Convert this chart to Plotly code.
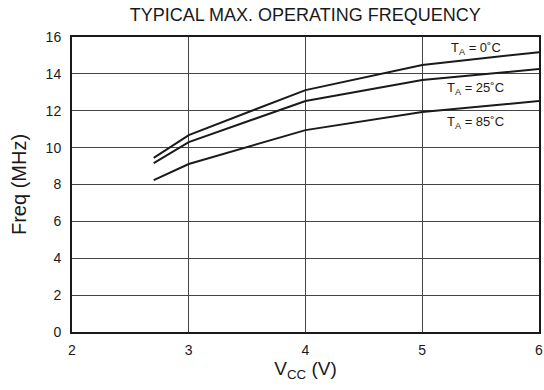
import plotly.graph_objects as go

vcc = [2.7, 3.0, 4.0, 5.0, 6.0]
freq_0c = [9.44, 10.68, 13.12, 14.48, 15.18]
freq_25c = [9.16, 10.30, 12.53, 13.67, 14.26]
freq_85c = [8.24, 9.11, 10.95, 11.93, 12.53]

labels = ["T<sub>A</sub> = 0˚C", "T<sub>A</sub> = 25˚C", "T<sub>A</sub> = 85˚C"]
label_x = [5.46, 5.46, 5.46]
label_y = [15.35, 13.23, 11.39]

font = "Liberation Sans, Arial, sans-serif"

fig = go.Figure()
for ys in [freq_0c, freq_25c, freq_85c]:
    fig.add_trace(go.Scatter(x=vcc, y=ys, mode="lines",
                             line=dict(color="#1a1a1a", width=2), showlegend=False,
                             hoverinfo="skip"))

for t, x, y in zip(labels, label_x, label_y):
    fig.add_annotation(x=x, y=y, text=t, showarrow=False,
                       font=dict(family=font, size=13, color="#1a1a1a"))

fig.update_layout(
    width=544, height=390,
    margin=dict(l=72, r=5, t=37, b=58, autoexpand=False),
    paper_bgcolor="white", plot_bgcolor="white",
    title=dict(text="TYPICAL MAX. OPERATING FREQUENCY", x=0.561, xanchor="center",
               y=0.962, yanchor="middle",
               font=dict(family=font, size=18, color="#1a1a1a")),
    font=dict(family=font, size=14, color="#1a1a1a"),
)
fig.update_xaxes(range=[2, 6], dtick=1, showgrid=True, gridcolor="#444", gridwidth=1,
                 showline=True, linecolor="#1a1a1a", linewidth=2, mirror=True,
                 zeroline=False, ticks="", automargin=False, ticklabelstandoff=4,
                 ticklabeloverflow="allow",
                 title=dict(text="V<sub>CC</sub> (V)", standoff=4,
                            font=dict(family=font, size=19)))
fig.update_yaxes(range=[0, 16], dtick=2, showgrid=True, gridcolor="#444", gridwidth=1,
                 showline=True, linecolor="#1a1a1a", linewidth=2, mirror=True,
                 zeroline=False, ticks="", automargin=False, ticklabelstandoff=6,
                 title=dict(text="Freq (MHz)", standoff=14,
                            font=dict(family=font, size=20)))

fig.write_html(
    "out.html",
    config={"displayModeBar": False, "staticPlot": True},
    post_script="document.body.style.margin='0';document.body.style.overflow='hidden';",
)
